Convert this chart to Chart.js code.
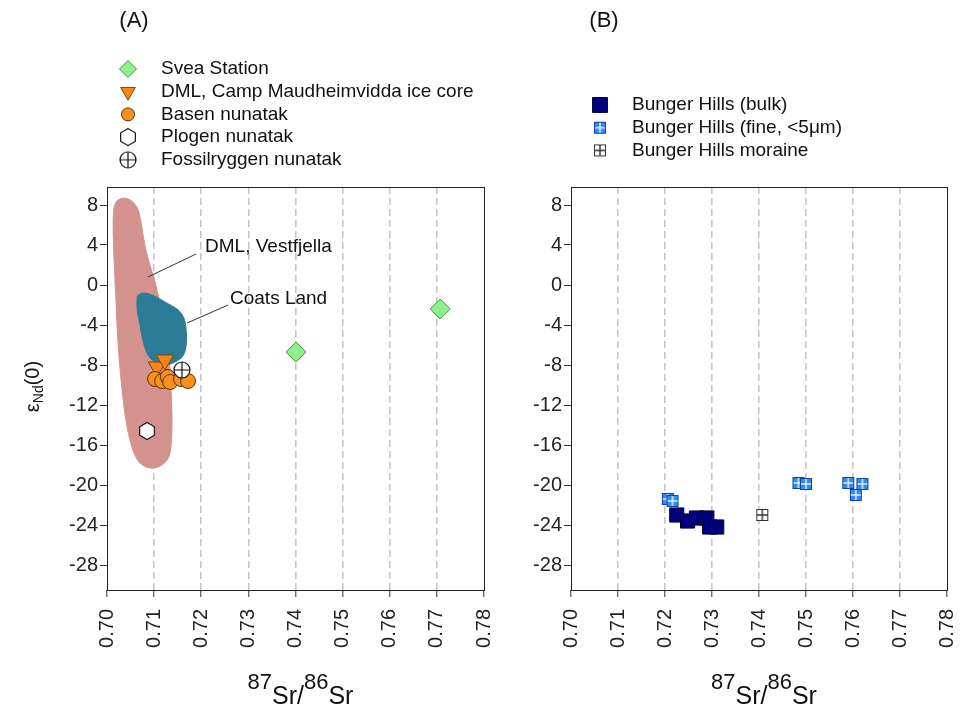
<!DOCTYPE html>
<html>
<head>
<meta charset="utf-8">
<script src="https://cdn.jsdelivr.net/npm/chart.js@4.4.1/dist/chart.umd.min.js"></script>
<style>
  body { margin: 0; background: #fff; }
  #wrap { position: relative; width: 962px; height: 710px; }
  .panel { position: absolute; top: 0; height: 710px; }
  #panelA { left: 0; width: 495px; }
  #panelB { left: 490px; width: 472px; }
</style>
</head>
<body>
<div id="wrap">
  <div class="panel" id="panelA"><canvas id="chartA"></canvas></div>
  <div class="panel" id="panelB"><canvas id="chartB"></canvas></div>
</div>
<script>
// axis ticks
const xTicks = [0.70, 0.71, 0.72, 0.73, 0.74, 0.75, 0.76, 0.77, 0.78];
const xTickLabels = ["0.70", "0.71", "0.72", "0.73", "0.74", "0.75", "0.76", "0.77", "0.78"];
const yTicks = [8, 4, 0, -4, -8, -12, -16, -20, -24, -28];
const yTickLabels = ["8", "4", "0", "-4", "-8", "-12", "-16", "-20", "-24", "-28"];

// panel A samples (87Sr/86Sr, eps Nd)
const sveaSr = [0.7401, 0.7707];
const sveaNd = [-6.7, -2.4];
const dmlSr = [0.7106, 0.7123];
const dmlNd = [-8.2, -7.5];
const basenSr = [0.7102, 0.7117, 0.7129, 0.7134, 0.7157, 0.7172];
const basenNd = [-9.4, -9.6, -9.2, -9.7, -9.4, -9.6];
const plogenSr = [0.7085];
const plogenNd = [-14.6];
const fossilSr = [0.7159];
const fossilNd = [-8.5];

// source fields (outlines)
const vestfjellaSr = [0.7032, 0.7045, 0.7057, 0.7066, 0.7072, 0.7081, 0.7091, 0.7102, 0.7113, 0.7123,
  0.7132, 0.7136, 0.7138, 0.7136, 0.7130, 0.7113, 0.7091, 0.7070, 0.7055, 0.7042, 0.7032, 0.7023,
  0.7019, 0.7015, 0.7013, 0.7015, 0.7021, 0.7032];
const vestfjellaNd = [8.7, 8.6, 8.2, 7.5, 6.3, 3.8, 2.0, 0.3, -2.0, -4.5,
  -7.5, -10.5, -13.5, -16.0, -17.3, -18.1, -18.3, -17.8, -16.5, -14.0, -10.5, -5.5,
  -1.5, 2.5, 6.0, 7.7, 8.4, 8.7];
const coatsSr = [0.7064, 0.7076, 0.7096, 0.7123, 0.7151, 0.7163, 0.7168, 0.7168, 0.7161, 0.7144,
  0.7123, 0.7102, 0.7087, 0.7076, 0.7070, 0.7064, 0.7064];
const coatsNd = [-1.1, -0.8, -1.0, -1.7, -2.5, -3.3, -4.5, -6.0, -7.1, -7.7,
  -8.0, -7.7, -7.0, -5.5, -4.0, -2.5, -1.1];

// leader lines and their labels
const vestfjellaLeaderSr = [0.7087, 0.7189];
const vestfjellaLeaderNd = [0.8, 3.1];
const coatsLeaderSr = [0.7170, 0.7257];
const coatsLeaderNd = [-3.8, -2.0];
const labelsA = [
  { text: "DML, Vestfjella", x: 0.7208, y: 3.8 },
  { text: "Coats Land", x: 0.7261, y: -1.4 }
];

// panel B samples
const bulkSr = [0.7225, 0.7248, 0.7267, 0.7289, 0.7295, 0.7310];
const bulkNd = [-23.0, -23.6, -23.3, -23.3, -24.2, -24.2];
const fineSr = [0.7206, 0.7216, 0.7484, 0.7500, 0.7590, 0.7620, 0.7606];
const fineNd = [-21.4, -21.6, -19.8, -19.9, -19.8, -19.9, -21.0];
const moraineSr = [0.7407];
const moraineNd = [-23.0];

const FONT = '"Liberation Sans", Arial, sans-serif';

function pts(xs, ys) {
  return xs.map((x, i) => ({ x: x, y: ys[i] }));
}

function makeMarker(size, draw) {
  const c = document.createElement("canvas");
  c.width = size;
  c.height = size;
  draw(c.getContext("2d"), size);
  return c;
}

const hexMarker = makeMarker(20, (g, s) => {
  const c = s / 2, r = 8.5;
  g.beginPath();
  for (let i = 0; i < 6; i++) {
    const a = (-90 + 60 * i) * Math.PI / 180;
    const px = c + r * Math.cos(a), py = c + r * Math.sin(a);
    if (i === 0) g.moveTo(px, py); else g.lineTo(px, py);
  }
  g.closePath();
  g.fillStyle = "#fff";
  g.fill();
  g.lineWidth = 1.2;
  g.strokeStyle = "#111";
  g.stroke();
});

const crossCircleMarker = makeMarker(20, (g, s) => {
  const c = s / 2, r = 8;
  g.beginPath();
  g.arc(c, c, r, 0, Math.PI * 2);
  g.fillStyle = "#fff";
  g.fill();
  g.lineWidth = 1.2;
  g.strokeStyle = "#111";
  g.stroke();
  g.beginPath();
  g.moveTo(c - r, c); g.lineTo(c + r, c);
  g.moveTo(c, c - r); g.lineTo(c, c + r);
  g.stroke();
});

function gridSquare(fill, edge, inner) {
  return makeMarker(14, (g) => {
    g.fillStyle = fill;
    g.fillRect(1, 1, 12, 12);
    g.strokeStyle = inner;
    g.lineWidth = 1.4;
    g.beginPath();
    g.moveTo(7, 1); g.lineTo(7, 13);
    g.moveTo(1, 7); g.lineTo(13, 7);
    g.stroke();
    g.strokeStyle = edge;
    g.lineWidth = 1;
    g.strokeRect(1.5, 1.5, 11, 11);
  });
}
const fineMarker = gridSquare("#2f8cf2", "#1b3f9e", "#e8f2ff");
const moraineMarker = gridSquare("#fff", "#333", "#333");

const styles = {
  svea: { pointStyle: "rectRot", radius: 10, legendRadius: 8.5, rotation: 0, fill: "#8ef08e", border: "#3f9a3f", borderWidth: 1 },
  dml: { pointStyle: "triangle", radius: 10, legendRadius: 8.5, rotation: 180, fill: "#f7861b", border: "#8a4200", borderWidth: 1 },
  basen: { pointStyle: "circle", radius: 7.5, legendRadius: 6.5, rotation: 0, fill: "#f7901e", border: "#5c3000", borderWidth: 1 },
  plogen: { pointStyle: hexMarker, radius: 9, legendRadius: 9, rotation: 0, fill: "#fff", border: "#111", borderWidth: 0 },
  fossil: { pointStyle: crossCircleMarker, radius: 9, legendRadius: 9, rotation: 0, fill: "#fff", border: "#111", borderWidth: 0 },
  bulk: { pointStyle: "rect", radius: 10, legendRadius: 10.5, rotation: 0, fill: "#00007f", border: "#000030", borderWidth: 1 },
  fine: { pointStyle: fineMarker, radius: 7, legendRadius: 7, rotation: 0, fill: "#2f8cf2", border: "#1b3f9e", borderWidth: 0 },
  moraine: { pointStyle: moraineMarker, radius: 7, legendRadius: 7, rotation: 0, fill: "#fff", border: "#333", borderWidth: 0 }
};

function scatterSet(label, xs, ys, st, order) {
  return {
    type: "scatter",
    label: label,
    data: pts(xs, ys),
    pointStyle: st.pointStyle,
    pointRadius: st.radius,
    pointRotation: st.rotation,
    backgroundColor: st.fill,
    borderColor: st.border,
    borderWidth: st.borderWidth,
    order: order
  };
}

function areaSet(xs, ys, color, order) {
  return {
    type: "line",
    data: pts(xs, ys),
    fill: "shape",
    backgroundColor: color,
    borderColor: color,
    borderWidth: 1,
    tension: 0.35,
    pointRadius: 0,
    order: order
  };
}

function leaderSet(xs, ys, order) {
  return {
    type: "line",
    data: pts(xs, ys),
    fill: false,
    borderColor: "#333",
    borderWidth: 1,
    pointRadius: 0,
    order: order
  };
}

function axes() {
  return {
    x: {
      type: "linear",
      min: 0.70,
      max: 0.78,
      afterBuildTicks: (s) => { s.ticks = xTicks.map((v) => ({ value: v })); },
      afterFit: (s) => {
        s.height = 70;
        s.paddingLeft = 0;
        s.paddingRight = 0;
      },
      ticks: {
        autoSkip: false,
        minRotation: 90,
        maxRotation: 90,
        padding: 12,
        color: "#222",
        font: { family: FONT, size: 20 },
        callback: (v, i) => xTickLabels[i]
      },
      grid: {
        color: (ctx) => {
          if (!ctx.tick) return "rgba(0,0,0,0)";
          const v = ctx.tick.value;
          return (Math.abs(v - 0.70) < 1e-6 || Math.abs(v - 0.78) < 1e-6) ? "rgba(0,0,0,0)" : "#c6c6c6";
        },
        lineWidth: 1.6,
        tickLength: 7,
        tickColor: "#333",
        tickWidth: 1
      },
      border: { display: false, dash: [7, 4] }
    },
    y: {
      type: "linear",
      min: -30.5,
      max: 9.8,
      afterBuildTicks: (s) => { s.ticks = yTicks.map((v) => ({ value: v })); },
      afterFit: (s) => {
        s.width = 60;
        s.paddingTop = 0;
        s.paddingBottom = 0;
      },
      ticks: {
        autoSkip: false,
        padding: 2,
        color: "#222",
        font: { family: FONT, size: 20 },
        callback: (v, i) => yTickLabels[i]
      },
      grid: {
        drawOnChartArea: false,
        tickLength: 7,
        tickColor: "#333",
        tickWidth: 1
      },
      border: { display: false }
    }
  };
}

function drawLegend(ctx, items, mx, tx, y0, dy) {
  items.forEach((it, i) => {
    const y = y0 + i * dy;
    const st = it.style;
    ctx.save();
    ctx.fillStyle = st.fill;
    ctx.strokeStyle = st.border;
    ctx.lineWidth = st.borderWidth;
    Chart.helpers.drawPoint(ctx, {
      pointStyle: st.pointStyle,
      radius: st.legendRadius,
      rotation: st.rotation,
      borderWidth: st.borderWidth
    }, mx, y);
    ctx.restore();
    ctx.fillStyle = "#111";
    ctx.font = "19px " + FONT;
    ctx.textAlign = "left";
    ctx.textBaseline = "middle";
    ctx.fillText(it.text, tx, y);
  });
}

function drawSrTitle(ctx, cx, base) {
  const parts = [
    { t: "87", sup: true }, { t: "Sr/", sup: false },
    { t: "86", sup: true }, { t: "Sr", sup: false }
  ];
  let w = 0;
  parts.forEach((p) => {
    ctx.font = (p.sup ? "22px " : "25px ") + FONT;
    p.w = ctx.measureText(p.t).width;
    w += p.w;
  });
  let x = cx - w / 2;
  ctx.fillStyle = "#111";
  ctx.textAlign = "left";
  ctx.textBaseline = "alphabetic";
  parts.forEach((p) => {
    ctx.font = (p.sup ? "22px " : "25px ") + FONT;
    ctx.fillText(p.t, x, p.sup ? base - 15 : base);
    x += p.w;
  });
}

function framePlugin(opts) {
  return {
    id: "frame" + opts.tag,
    afterDraw(chart) {
      const ctx = chart.ctx;
      const a = chart.chartArea;
      ctx.save();
      ctx.strokeStyle = "#222";
      ctx.lineWidth = 1;
      ctx.strokeRect(Math.round(a.left) + 0.5, Math.round(a.top) + 0.5,
        Math.round(a.right - a.left), Math.round(a.bottom - a.top));

      ctx.fillStyle = "#111";
      ctx.font = "22px " + FONT;
      ctx.textAlign = "center";
      ctx.textBaseline = "middle";
      ctx.fillText(opts.tag, opts.tagX, 21);

      drawLegend(ctx, opts.legend, opts.legendMarkX, opts.legendTextX, opts.legendY, opts.legendDy);
      drawSrTitle(ctx, (a.left + a.right) / 2 + 5, 704);

      if (opts.labels) {
        const xs = chart.scales.x, ys = chart.scales.y;
        ctx.font = "19px " + FONT;
        ctx.fillStyle = "#111";
        ctx.textAlign = "left";
        ctx.textBaseline = "middle";
        opts.labels.forEach((l) => {
          ctx.fillText(l.text, xs.getPixelForValue(l.x), ys.getPixelForValue(l.y));
        });
      }

      if (opts.yTitle) {
        ctx.translate(33, (a.top + a.bottom) / 2 - 2);
        ctx.rotate(-Math.PI / 2);
        ctx.textBaseline = "alphabetic";
        ctx.textAlign = "left";
        ctx.font = "20px " + FONT;
        const wE = ctx.measureText("\u03b5").width;
        const wP = ctx.measureText("(0)").width;
        ctx.font = "14px " + FONT;
        const wN = ctx.measureText("Nd").width;
        let x = -(wE + wN + wP) / 2;
        ctx.font = "20px " + FONT;
        ctx.fillText("\u03b5", x, 6);
        x += wE;
        ctx.font = "14px " + FONT;
        ctx.fillText("Nd", x, 10);
        x += wN;
        ctx.font = "20px " + FONT;
        ctx.fillText("(0)", x, 6);
      }
      ctx.restore();
    }
  };
}

new Chart(document.getElementById("chartA"), {
  type: "scatter",
  data: {
    datasets: [
      scatterSet("Svea Station", sveaSr, sveaNd, styles.svea, 5),
      scatterSet("DML, Camp Maudheimvidda ice core", dmlSr, dmlNd, styles.dml, 4),
      scatterSet("Basen nunatak", basenSr, basenNd, styles.basen, 3),
      scatterSet("Plogen nunatak", plogenSr, plogenNd, styles.plogen, 2),
      scatterSet("Fossilryggen nunatak", fossilSr, fossilNd, styles.fossil, 1),
      areaSet(vestfjellaSr, vestfjellaNd, "#d4928e", 20),
      areaSet(coatsSr, coatsNd, "#2c7c97", 19),
      leaderSet(vestfjellaLeaderSr, vestfjellaLeaderNd, 18),
      leaderSet(coatsLeaderSr, coatsLeaderNd, 18)
    ]
  },
  options: {
    responsive: true,
    maintainAspectRatio: false,
    animation: false,
    events: [],
    layout: { padding: { left: 47, right: 11, top: 187, bottom: 50 } },
    plugins: { legend: { display: false }, tooltip: { enabled: false } },
    scales: axes()
  },
  plugins: [framePlugin({
    tag: "(A)",
    tagX: 134,
    legend: [
      { text: "Svea Station", style: styles.svea },
      { text: "DML, Camp Maudheimvidda ice core", style: styles.dml },
      { text: "Basen nunatak", style: styles.basen },
      { text: "Plogen nunatak", style: styles.plogen },
      { text: "Fossilryggen nunatak", style: styles.fossil }
    ],
    legendMarkX: 128,
    legendTextX: 161,
    legendY: 69,
    legendDy: 22.7,
    labels: labelsA,
    yTitle: true
  })]
});

new Chart(document.getElementById("chartB"), {
  type: "scatter",
  data: {
    datasets: [
      scatterSet("Bunger Hills (bulk)", bulkSr, bulkNd, styles.bulk, 3),
      scatterSet("Bunger Hills (fine, <5\u03bcm)", fineSr, fineNd, styles.fine, 2),
      scatterSet("Bunger Hills moraine", moraineSr, moraineNd, styles.moraine, 1)
    ]
  },
  options: {
    responsive: true,
    maintainAspectRatio: false,
    animation: false,
    events: [],
    layout: { padding: { left: 21, right: 15, top: 187, bottom: 50 } },
    plugins: { legend: { display: false }, tooltip: { enabled: false } },
    scales: axes()
  },
  plugins: [framePlugin({
    tag: "(B)",
    tagX: 114,
    legend: [
      { text: "Bunger Hills (bulk)", style: styles.bulk },
      { text: "Bunger Hills (fine, <5\u03bcm)", style: styles.fine },
      { text: "Bunger Hills moraine", style: styles.moraine }
    ],
    legendMarkX: 110,
    legendTextX: 142,
    legendY: 105,
    legendDy: 22.7,
    labels: null,
    yTitle: false
  })]
});
</script>
</body>
</html>
